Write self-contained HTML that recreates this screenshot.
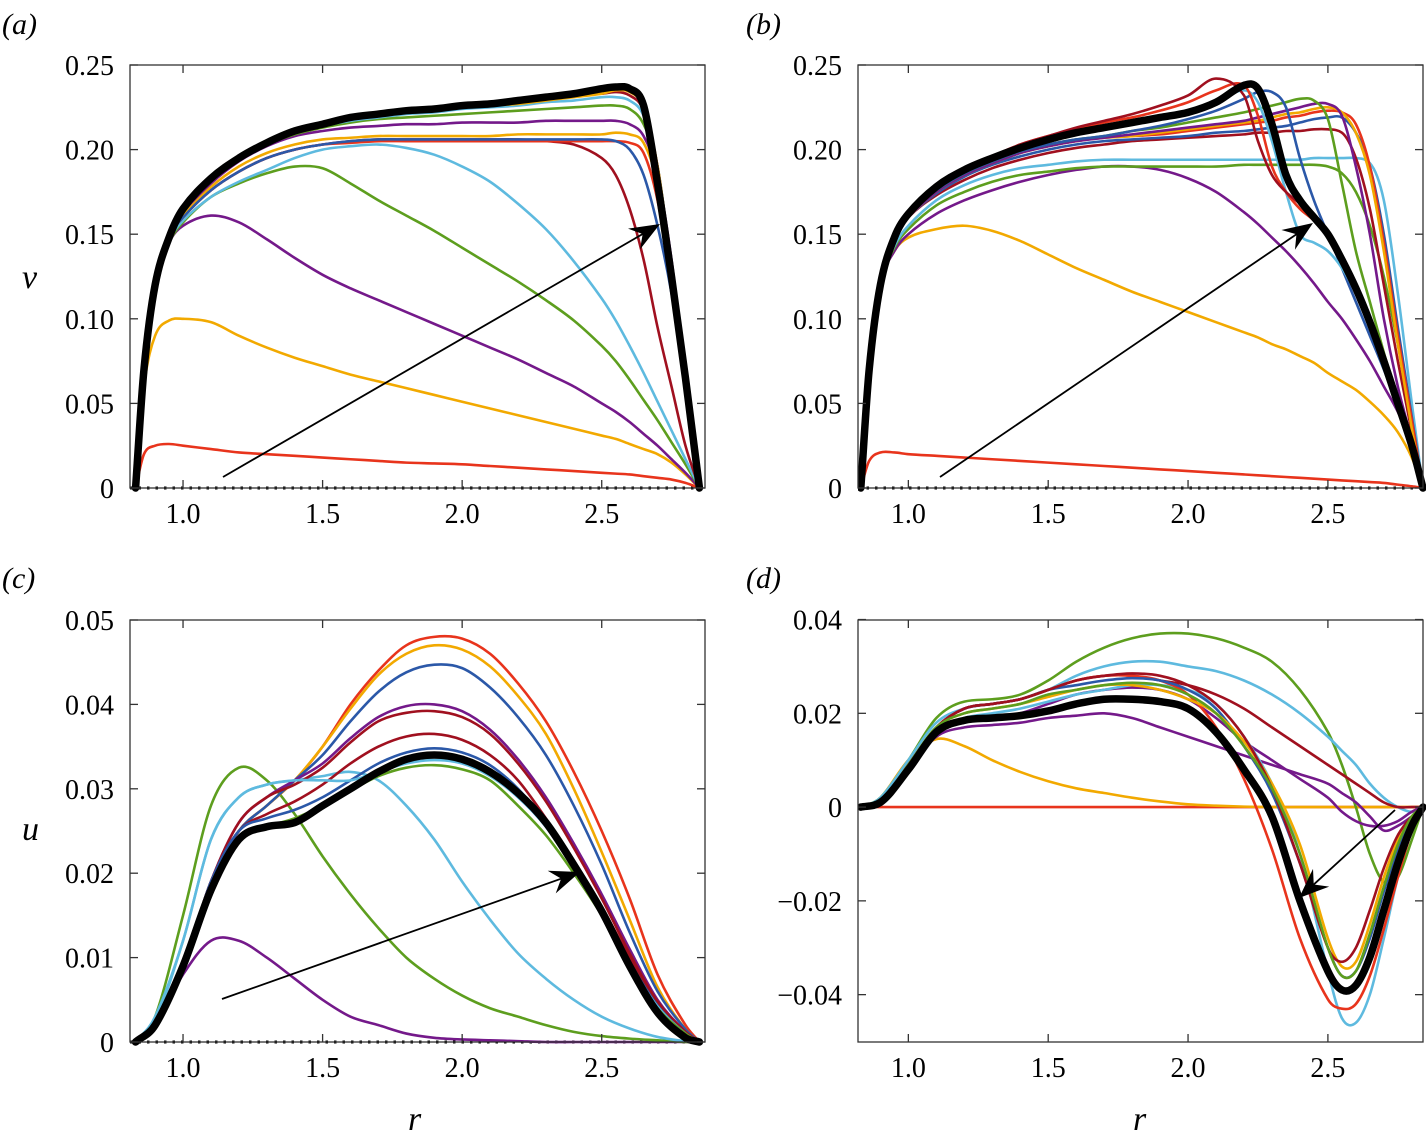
<!DOCTYPE html>
<html><head><meta charset="utf-8"><style>
body{margin:0;background:#fff;}
svg{display:block;font-family:"Liberation Serif",serif;}
</style></head><body>
<svg id="fig" width="1426" height="1143" viewBox="0 0 1426 1143"></svg>
<script>
// ---------- data ----------
const GA=[0.83,0.86,0.9,0.95,1.0,1.1,1.2,1.3,1.4,1.5,1.6,1.7,1.8,1.9,2.0,2.1,2.2,2.3,2.4,2.5,2.55,2.6,2.65,2.7,2.75,2.8,2.85];
const aRed1=[0,0.02,0.025,0.026,0.025,0.023,0.021,0.02,0.019,0.018,0.017,0.016,0.015,0.0145,0.014,0.013,0.012,0.011,0.010,0.009,0.0085,0.008,0.007,0.006,0.005,0.003,0];
const aOrange1=[0,0.06,0.09,0.099,0.1,0.098,0.09,0.083,0.077,0.072,0.067,0.063,0.059,0.055,0.051,0.047,0.043,0.039,0.035,0.031,0.029,0.026,0.023,0.02,0.015,0.008,0];
const aPurple1=[0,0.07,0.12,0.145,0.155,0.161,0.157,0.147,0.136,0.126,0.118,0.111,0.104,0.097,0.09,0.083,0.076,0.068,0.06,0.05,0.045,0.039,0.032,0.025,0.017,0.009,0];
const aGreen1=[0,0.07,0.12,0.145,0.157,0.172,0.18,0.186,0.19,0.189,0.18,0.17,0.161,0.152,0.142,0.132,0.122,0.111,0.099,0.084,0.075,0.064,0.052,0.04,0.027,0.014,0];
const aBlueL1=[0,0.07,0.12,0.146,0.158,0.172,0.181,0.188,0.195,0.2,0.202,0.203,0.201,0.197,0.19,0.181,0.168,0.153,0.134,0.112,0.099,0.084,0.068,0.051,0.034,0.017,0];
const aDarkRed1=[0,0.07,0.12,0.148,0.16,0.176,0.187,0.195,0.2,0.203,0.205,0.206,0.206,0.206,0.206,0.206,0.206,0.205,0.203,0.195,0.185,0.165,0.135,0.095,0.06,0.025,0];
const aRed2=[0,0.07,0.12,0.148,0.16,0.176,0.187,0.195,0.2,0.203,0.204,0.205,0.205,0.205,0.205,0.205,0.205,0.205,0.205,0.205,0.205,0.204,0.198,0.17,0.12,0.06,0];
const aBlue1=[0,0.07,0.12,0.148,0.16,0.176,0.187,0.195,0.2,0.203,0.205,0.206,0.206,0.206,0.206,0.206,0.206,0.206,0.206,0.206,0.205,0.2,0.185,0.155,0.115,0.06,0];
const aOrange2=[0,0.07,0.12,0.149,0.162,0.178,0.19,0.198,0.203,0.206,0.207,0.208,0.208,0.208,0.208,0.208,0.209,0.209,0.209,0.209,0.21,0.209,0.204,0.18,0.13,0.065,0];
const aPurple2=[0,0.07,0.12,0.15,0.163,0.18,0.193,0.202,0.208,0.211,0.213,0.214,0.215,0.215,0.216,0.216,0.216,0.217,0.217,0.217,0.217,0.215,0.208,0.185,0.135,0.065,0];
const aGreen2=[0,0.07,0.12,0.148,0.165,0.182,0.194,0.203,0.209,0.213,0.216,0.218,0.219,0.22,0.221,0.222,0.223,0.224,0.225,0.226,0.226,0.224,0.215,0.19,0.13,0.065,0];
const aBlueL2=[0,0.07,0.12,0.148,0.165,0.182,0.194,0.203,0.21,0.214,0.217,0.219,0.221,0.222,0.224,0.225,0.226,0.228,0.229,0.231,0.231,0.229,0.22,0.19,0.13,0.065,0];
const aDarkRed2=[0,0.07,0.12,0.148,0.165,0.183,0.195,0.204,0.211,0.215,0.218,0.22,0.222,0.223,0.225,0.226,0.228,0.23,0.232,0.233,0.234,0.232,0.223,0.19,0.13,0.065,0];
const aOrange3=[0,0.07,0.12,0.148,0.165,0.183,0.195,0.204,0.211,0.215,0.218,0.22,0.222,0.223,0.225,0.226,0.227,0.229,0.231,0.233,0.235,0.234,0.225,0.19,0.13,0.065,0];
const aBlack=[0,0.07,0.12,0.148,0.165,0.183,0.195,0.204,0.211,0.215,0.219,0.221,0.223,0.224,0.226,0.227,0.229,0.231,0.233,0.236,0.237,0.236,0.226,0.18,0.125,0.065,0];

const GB=[0.83,0.86,0.9,0.95,1.0,1.1,1.2,1.3,1.4,1.5,1.6,1.7,1.8,1.9,2.0,2.1,2.2,2.25,2.3,2.35,2.4,2.45,2.5,2.55,2.6,2.65,2.7,2.75,2.8,2.84];
const bRed1=[0,0.016,0.021,0.021,0.02,0.019,0.018,0.017,0.016,0.015,0.014,0.013,0.012,0.011,0.01,0.009,0.008,0.0075,0.007,0.0065,0.006,0.0055,0.005,0.0045,0.004,0.0035,0.003,0.002,0.001,0];
const bOrange1=[0,0.07,0.12,0.14,0.148,0.153,0.155,0.152,0.146,0.138,0.13,0.123,0.116,0.11,0.104,0.098,0.092,0.089,0.085,0.082,0.078,0.074,0.068,0.063,0.058,0.051,0.043,0.033,0.018,0];
const bPurple1=[0,0.07,0.12,0.14,0.15,0.162,0.17,0.176,0.181,0.185,0.188,0.19,0.19,0.188,0.183,0.175,0.163,0.156,0.148,0.14,0.131,0.121,0.11,0.1,0.088,0.075,0.06,0.045,0.025,0];
const bGreen1=[0,0.07,0.12,0.142,0.153,0.167,0.175,0.181,0.185,0.187,0.189,0.19,0.19,0.19,0.19,0.19,0.191,0.191,0.191,0.191,0.191,0.191,0.19,0.186,0.175,0.155,0.125,0.085,0.04,0];
const bBlueL1=[0,0.07,0.12,0.143,0.155,0.17,0.179,0.185,0.189,0.191,0.193,0.194,0.194,0.194,0.194,0.194,0.194,0.194,0.194,0.194,0.194,0.195,0.195,0.195,0.195,0.192,0.17,0.115,0.05,0];
const bBlueL2=[0,0.07,0.12,0.148,0.162,0.178,0.188,0.195,0.201,0.206,0.21,0.213,0.216,0.219,0.222,0.228,0.235,0.228,0.205,0.175,0.15,0.145,0.14,0.13,0.115,0.095,0.073,0.048,0.022,0];
const bDarkRed1=[0,0.07,0.12,0.148,0.162,0.178,0.188,0.196,0.203,0.208,0.213,0.217,0.221,0.226,0.232,0.242,0.232,0.205,0.185,0.175,0.168,0.16,0.15,0.135,0.118,0.098,0.075,0.05,0.025,0];
const bRed2=[0,0.07,0.12,0.148,0.162,0.178,0.188,0.196,0.203,0.208,0.212,0.216,0.219,0.223,0.228,0.235,0.238,0.22,0.19,0.175,0.165,0.158,0.148,0.133,0.116,0.097,0.074,0.05,0.025,0];
const bBlue1=[0,0.07,0.12,0.147,0.161,0.176,0.186,0.193,0.199,0.203,0.206,0.208,0.211,0.214,0.218,0.223,0.23,0.234,0.234,0.225,0.195,0.17,0.15,0.13,0.11,0.09,0.07,0.048,0.024,0];
const bGreen2=[0,0.07,0.12,0.147,0.161,0.176,0.186,0.193,0.199,0.203,0.206,0.208,0.211,0.213,0.216,0.219,0.222,0.224,0.226,0.228,0.23,0.229,0.218,0.18,0.14,0.11,0.08,0.052,0.025,0];
const bPurple2=[0,0.07,0.12,0.147,0.16,0.175,0.185,0.192,0.198,0.202,0.205,0.207,0.209,0.211,0.213,0.215,0.217,0.219,0.221,0.223,0.225,0.227,0.227,0.22,0.19,0.15,0.1,0.06,0.028,0];
const bOrange2=[0,0.07,0.12,0.147,0.16,0.175,0.185,0.192,0.198,0.202,0.205,0.207,0.208,0.21,0.212,0.214,0.216,0.217,0.219,0.221,0.222,0.224,0.225,0.222,0.21,0.185,0.14,0.085,0.035,0];
const bRed3=[0,0.07,0.12,0.147,0.16,0.175,0.185,0.192,0.198,0.202,0.205,0.207,0.208,0.209,0.211,0.213,0.215,0.216,0.217,0.219,0.22,0.222,0.223,0.222,0.215,0.19,0.145,0.09,0.04,0];
const bBlue2=[0,0.07,0.12,0.147,0.16,0.174,0.184,0.191,0.196,0.2,0.203,0.205,0.206,0.207,0.208,0.21,0.211,0.212,0.213,0.214,0.216,0.218,0.219,0.219,0.21,0.19,0.15,0.095,0.042,0];
const bDarkRed2=[0,0.07,0.12,0.147,0.16,0.173,0.182,0.189,0.194,0.198,0.201,0.203,0.205,0.206,0.207,0.208,0.209,0.21,0.21,0.211,0.211,0.212,0.212,0.21,0.195,0.165,0.12,0.075,0.033,0];
const bBlack=[0,0.07,0.12,0.148,0.162,0.178,0.188,0.195,0.201,0.206,0.21,0.213,0.216,0.219,0.222,0.228,0.238,0.236,0.215,0.185,0.17,0.16,0.15,0.135,0.118,0.098,0.075,0.05,0.025,0];

const GC=[0.83,0.9,1.0,1.1,1.2,1.3,1.4,1.5,1.6,1.7,1.8,1.9,2.0,2.1,2.2,2.3,2.4,2.5,2.6,2.7,2.8,2.85];
const cPurple1=[0,0.002,0.008,0.012,0.012,0.010,0.0075,0.005,0.003,0.002,0.001,0.0005,0.0003,0.0002,0.0001,0,0,0,0,0,0,0];
const cGreen1=[0,0.003,0.015,0.028,0.0325,0.031,0.027,0.022,0.0175,0.0135,0.01,0.0075,0.0055,0.004,0.003,0.002,0.0012,0.0007,0.0004,0.0002,0,0];
const cBlueL1=[0,0.0025,0.012,0.024,0.029,0.0305,0.031,0.0315,0.032,0.031,0.028,0.024,0.019,0.0145,0.0105,0.0075,0.005,0.003,0.0016,0.0006,0.0001,0];
const cRed1=[0,0.002,0.009,0.019,0.025,0.028,0.031,0.035,0.04,0.044,0.047,0.048,0.0478,0.046,0.0425,0.038,0.032,0.025,0.017,0.008,0.002,0];
const cOrange1=[0,0.002,0.009,0.019,0.025,0.028,0.031,0.035,0.0395,0.0435,0.046,0.047,0.0465,0.0445,0.041,0.0365,0.03,0.0225,0.0145,0.0065,0.0015,0];
const cBlue1=[0,0.002,0.009,0.019,0.025,0.028,0.031,0.034,0.038,0.0415,0.0438,0.0447,0.0443,0.042,0.0385,0.034,0.028,0.021,0.013,0.006,0.0015,0];
const cPurple2=[0,0.002,0.009,0.019,0.026,0.029,0.031,0.033,0.036,0.0385,0.0398,0.04,0.0392,0.037,0.0335,0.029,0.0235,0.0175,0.011,0.005,0.0012,0];
const cDarkRed1=[0,0.002,0.009,0.019,0.026,0.029,0.0305,0.0325,0.0355,0.038,0.039,0.0392,0.0385,0.0365,0.033,0.0285,0.023,0.017,0.0105,0.0048,0.0012,0];
const cDarkRed2=[0,0.002,0.009,0.019,0.025,0.027,0.0285,0.0305,0.033,0.035,0.0362,0.0365,0.0358,0.034,0.031,0.0265,0.0215,0.016,0.01,0.0045,0.0011,0];
const cBlue2=[0,0.002,0.009,0.019,0.025,0.0265,0.0275,0.029,0.031,0.033,0.0343,0.0348,0.0343,0.0328,0.03,0.026,0.021,0.0155,0.0095,0.0043,0.001,0];
const cBlueL2=[0,0.003,0.012,0.024,0.029,0.0305,0.031,0.031,0.031,0.032,0.033,0.0334,0.033,0.0315,0.029,0.0255,0.0205,0.015,0.0092,0.0042,0.001,0];
const cGreen2=[0,0.002,0.009,0.018,0.024,0.0255,0.0265,0.028,0.0298,0.0315,0.0325,0.0328,0.0323,0.031,0.028,0.0245,0.02,0.015,0.009,0.004,0.001,0];
const cBlack=[0,0.002,0.009,0.018,0.024,0.0255,0.026,0.028,0.03,0.032,0.0335,0.034,0.0335,0.032,0.0295,0.026,0.021,0.0155,0.009,0.0035,0.0005,0];

const GD=[0.83,0.9,1.0,1.1,1.2,1.3,1.4,1.5,1.6,1.7,1.8,1.9,2.0,2.1,2.2,2.3,2.4,2.5,2.55,2.6,2.65,2.7,2.75,2.8,2.84];
const dRed0=[0,0,0,0,0,0,0,0,0,0,0,0,0,0,0,0,0,0,0,0,0,0,0,0,0];
const dOrange1=[0,0.002,0.01,0.0145,0.013,0.01,0.0075,0.0055,0.004,0.003,0.002,0.0012,0.0006,0.0003,0.0001,0,0,0,0,0,0,0,0,0,0];
const dGreen1=[0,0.002,0.01,0.019,0.0225,0.023,0.024,0.027,0.031,0.034,0.036,0.037,0.037,0.036,0.034,0.031,0.025,0.016,0.009,0.0,-0.01,-0.016,-0.015,-0.007,0];
const dBlueL1=[0,0.002,0.01,0.018,0.021,0.022,0.023,0.025,0.028,0.03,0.031,0.031,0.03,0.029,0.027,0.024,0.02,0.015,0.012,0.009,0.005,0.002,0,-0.001,0];
const dPurple1=[0,0.001,0.008,0.015,0.017,0.0175,0.018,0.019,0.0195,0.02,0.019,0.017,0.015,0.013,0.011,0.009,0.007,0.005,0.003,0.001,-0.002,-0.005,-0.004,-0.002,0];
const dBlueL2=[0,0.001,0.008,0.016,0.019,0.02,0.021,0.0225,0.024,0.025,0.026,0.026,0.025,0.022,0.015,0.005,-0.01,-0.035,-0.045,-0.046,-0.04,-0.028,-0.015,-0.005,0];
const dRed1=[0,0.001,0.009,0.017,0.021,0.022,0.023,0.025,0.027,0.028,0.028,0.027,0.024,0.017,0.006,-0.009,-0.028,-0.041,-0.043,-0.042,-0.036,-0.026,-0.015,-0.005,0];
const dBlue1=[0,0.001,0.009,0.017,0.021,0.022,0.023,0.025,0.026,0.027,0.0275,0.027,0.025,0.021,0.013,0.003,-0.012,-0.03,-0.036,-0.035,-0.028,-0.018,-0.009,-0.003,0];
const dOrange2=[0,0.001,0.009,0.017,0.02,0.021,0.022,0.0235,0.025,0.026,0.026,0.025,0.023,0.02,0.014,0.005,-0.008,-0.028,-0.034,-0.033,-0.025,-0.015,-0.007,-0.002,0];
const dDarkRed1=[0,0.001,0.009,0.017,0.021,0.022,0.023,0.025,0.027,0.028,0.0285,0.028,0.026,0.022,0.015,0.004,-0.012,-0.03,-0.033,-0.03,-0.022,-0.013,-0.006,-0.002,0];
const dGreen2=[0,0.001,0.009,0.017,0.02,0.021,0.022,0.024,0.025,0.026,0.0265,0.026,0.024,0.02,0.013,0.004,-0.01,-0.03,-0.036,-0.035,-0.027,-0.017,-0.008,-0.002,0];
const dPurple2=[0,0.001,0.008,0.016,0.018,0.019,0.02,0.022,0.024,0.025,0.0255,0.025,0.023,0.019,0.014,0.01,0.006,0.002,-0.001,-0.003,-0.004,-0.004,-0.003,-0.001,0];
const dDarkRed2=[0,0.001,0.009,0.017,0.021,0.022,0.023,0.025,0.027,0.028,0.028,0.027,0.026,0.024,0.021,0.017,0.013,0.009,0.007,0.005,0.003,0.001,0,0,0];
const dBlack=[0,0.001,0.008,0.016,0.0185,0.019,0.0195,0.0205,0.022,0.023,0.023,0.0225,0.021,0.016,0.008,-0.002,-0.02,-0.035,-0.039,-0.038,-0.032,-0.022,-0.012,-0.004,0];

const xTicks=[1.0,1.5,2.0,2.5];
const xTickLabels=["1.0","1.5","2.0","2.5"];
const yTicksV=[0,0.05,0.10,0.15,0.20,0.25];
const yLabelsV=["0","0.05","0.10","0.15","0.20","0.25"];
const yTicksU=[0,0.01,0.02,0.03,0.04,0.05];
const yLabelsU=["0","0.01","0.02","0.03","0.04","0.05"];
const yTicksD=[-0.04,-0.02,0,0.02,0.04];
const yLabelsD=["\u22120.04","\u22120.02","0","0.02","0.04"];

// ---------- drawing ----------
const C={red:"#e8341c",orange:"#f2a900",purple:"#74198a",green:"#5d9e1e",lblue:"#5ebadf",dred:"#a0101f",blue:"#2b58a8",black:"#000"};
const NS="http://www.w3.org/2000/svg";
const svg=document.getElementById('fig');
function el(tag,attrs,parent){const e=document.createElementNS(NS,tag);for(const k in attrs)e.setAttribute(k,attrs[k]);(parent||svg).appendChild(e);return e;}

function smooth(xs,ys){
  const n=xs.length,d=[],m=[];
  for(let i=0;i<n-1;i++)d.push((ys[i+1]-ys[i])/(xs[i+1]-xs[i]));
  m[0]=d[0];m[n-1]=d[n-2];
  for(let i=1;i<n-1;i++){m[i]=(ys[i+1]-ys[i-1])/(xs[i+1]-xs[i-1]);}
  for(let i=0;i<n-1;i++){
    if(d[i]===0)continue;
    const a=m[i]/d[i],b=m[i+1]/d[i];
    if(a>0&&b>0){const s=a*a+b*b;if(s>9){const t=3/Math.sqrt(s);m[i]=t*a*d[i];m[i+1]=t*b*d[i];}}
  }
  let p="M"+xs[0].toFixed(2)+","+ys[0].toFixed(2);
  for(let i=0;i<n-1;i++){const h=(xs[i+1]-xs[i])/3;
    p+=" C"+(xs[i]+h).toFixed(2)+","+(ys[i]+m[i]*h).toFixed(2)+" "+(xs[i+1]-h).toFixed(2)+","+(ys[i+1]-m[i+1]*h).toFixed(2)+" "+xs[i+1].toFixed(2)+","+ys[i+1].toFixed(2);}
  return p;
}

function panel(cfg){
  const g=el('g',{});
  
  
  const L=cfg.L,R=cfg.R,T=cfg.T,B=cfg.B;
  const sx=r=>L+(r-cfg.r0)/(cfg.r1-cfg.r0)*(R-L);
  const sy=v=>B-(v-cfg.y0)/(cfg.y1-cfg.y0)*(B-T);
  if(cfg.dots){const z=el('line',{x1:L,x2:R,y1:sy(0),y2:sy(0),stroke:'#000','stroke-width':3,'stroke-dasharray':'2.5,6'},g);
    }
  const cl=el('clipPath',{id:'clip-'+cfg.name},g);el('rect',{x:L,y:T-20,width:R-L+10,height:B-T+40},cl);
  const sg=el('g',{'clip-path':'url(#clip-'+cfg.name+')'},g);
  cfg.series.forEach(s=>{
    const p=el('path',{d:smooth(cfg.grid.map(sx),s.v.map(sy)),fill:'none',stroke:C[s.c],'stroke-width':s.c==='black'?7.5:2.6,'stroke-linejoin':'round','stroke-linecap':'round'},sg);
    
    
  });
  const bx=el('rect',{x:L,y:T,width:R-L,height:B-T,fill:'none',stroke:'#333','stroke-width':1.3},g);
  
  xTicks.forEach((t,i)=>{const x=sx(t);
    el('line',{x1:x,x2:x,y1:B,y2:B-8,stroke:'#333','stroke-width':1.3},g);
    el('line',{x1:x,x2:x,y1:T,y2:T+8,stroke:'#333','stroke-width':1.3},g);
    const tx=el('text',{x:x,y:B+35,'font-size':28,'text-anchor':'middle'},g);tx.textContent=xTickLabels[i];
    });
  cfg.yt.forEach((t,i)=>{const y=sy(t);
    el('line',{x1:L,x2:L+8,y1:y,y2:y,stroke:'#333','stroke-width':1.3},g);
    el('line',{x1:R,x2:R-8,y1:y,y2:y,stroke:'#333','stroke-width':1.3},g);
    const tx=el('text',{x:L-16,y:y+10,'font-size':28,'text-anchor':'end'},g);tx.textContent=cfg.yl[i];
    });
  const a=cfg.arrow,ang=Math.atan2(a[3]-a[1],a[2]-a[0]);
  const ln=el('line',{x1:a[0],y1:a[1],x2:a[2]-14*Math.cos(ang),y2:a[3]-14*Math.sin(ang),stroke:'#000','stroke-width':1.8},g);
  
  const hx=a[2],hy=a[3],len=30,w=12,bxp=hx-len*Math.cos(ang),byp=hy-len*Math.sin(ang),ix=hx-20*Math.cos(ang),iy=hy-20*Math.sin(ang);
  const hd=el('path',{d:`M${hx},${hy} L${bxp-w*Math.sin(ang)},${byp+w*Math.cos(ang)} L${ix},${iy} L${bxp+w*Math.sin(ang)},${byp-w*Math.cos(ang)} Z`,fill:'#000'},g);
  
  const lb=el('text',{x:cfg.lab[0],y:cfg.lab[1],'font-size':30,'font-style':'italic'},g);lb.textContent=cfg.label;
  
}
function S(n,c,v){return {n:n,c:c,v:v};}

panel({name:'panel-a',L:130,R:705,T:65,B:488,r0:0.81,r1:2.87,y0:0,y1:0.25,grid:GA,dots:true,yt:yTicksV,yl:yLabelsV,arrow:[223,477,660,224],lab:[2,34],label:'(a)',
 series:[S('curve-red-1','red',aRed1),S('curve-orange-1','orange',aOrange1),S('curve-purple-1','purple',aPurple1),S('curve-green-1','green',aGreen1),S('curve-lightblue-1','lblue',aBlueL1),S('curve-darkred-1','dred',aDarkRed1),S('curve-red-2','red',aRed2),S('curve-blue-1','blue',aBlue1),S('curve-orange-2','orange',aOrange2),S('curve-purple-2','purple',aPurple2),S('curve-green-2','green',aGreen2),S('curve-lightblue-2','lblue',aBlueL2),S('curve-darkred-2','dred',aDarkRed2),S('curve-orange-3','orange',aOrange3),S('curve-final-black','black',aBlack)]});
panel({name:'panel-b',L:858,R:1423,T:65,B:488,r0:0.82,r1:2.84,y0:0,y1:0.25,grid:GB,dots:true,yt:yTicksV,yl:yLabelsV,arrow:[940,477,1313,223],lab:[746,34],label:'(b)',
 series:[S('curve-red-1','red',bRed1),S('curve-orange-1','orange',bOrange1),S('curve-purple-1','purple',bPurple1),S('curve-green-1','green',bGreen1),S('curve-lightblue-1','lblue',bBlueL1),S('curve-darkred-2','dred',bDarkRed2),S('curve-blue-2','blue',bBlue2),S('curve-red-3','red',bRed3),S('curve-orange-2','orange',bOrange2),S('curve-purple-2','purple',bPurple2),S('curve-green-2','green',bGreen2),S('curve-blue-1','blue',bBlue1),S('curve-lightblue-2','lblue',bBlueL2),S('curve-red-2','red',bRed2),S('curve-darkred-1','dred',bDarkRed1),S('curve-final-black','black',bBlack)]});
panel({name:'panel-c',L:130,R:705,T:620,B:1042,r0:0.81,r1:2.87,y0:0,y1:0.05,grid:GC,dots:true,yt:yTicksU,yl:yLabelsU,arrow:[222,999,580,872],lab:[2,588],label:'(c)',
 series:[S('curve-purple-1','purple',cPurple1),S('curve-green-1','green',cGreen1),S('curve-lightblue-1','lblue',cBlueL1),S('curve-red-1','red',cRed1),S('curve-orange-1','orange',cOrange1),S('curve-blue-1','blue',cBlue1),S('curve-purple-2','purple',cPurple2),S('curve-darkred-1','dred',cDarkRed1),S('curve-darkred-2','dred',cDarkRed2),S('curve-blue-2','blue',cBlue2),S('curve-lightblue-2','lblue',cBlueL2),S('curve-green-2','green',cGreen2),S('curve-final-black','black',cBlack)]});
panel({name:'panel-d',L:858,R:1423,T:620,B:1042,r0:0.82,r1:2.84,y0:-0.0501,y1:0.0399,grid:GD,dots:false,yt:yTicksD,yl:yLabelsD,arrow:[1395,810,1299,898],lab:[746,588],label:'(d)',
 series:[S('curve-red-0','red',dRed0),S('curve-orange-1','orange',dOrange1),S('curve-green-1','green',dGreen1),S('curve-lightblue-1','lblue',dBlueL1),S('curve-purple-1','purple',dPurple1),S('curve-darkred-2','dred',dDarkRed2),S('curve-purple-2','purple',dPurple2),S('curve-lightblue-2','lblue',dBlueL2),S('curve-red-1','red',dRed1),S('curve-blue-1','blue',dBlue1),S('curve-orange-2','orange',dOrange2),S('curve-darkred-1','dred',dDarkRed1),S('curve-green-2','green',dGreen2),S('curve-final-black','black',dBlack)]});

[['v',22,288,'y-axis-title-v'],['u',22,840,'y-axis-title-u'],['r',408,1130,'x-axis-title-c'],['r',1133,1130,'x-axis-title-d']].forEach(a=>{
  const t=el('text',{x:a[1],y:a[2],'font-size':34,'font-style':'italic'});t.textContent=a[0];
  
  
});
</script>
</body></html>
